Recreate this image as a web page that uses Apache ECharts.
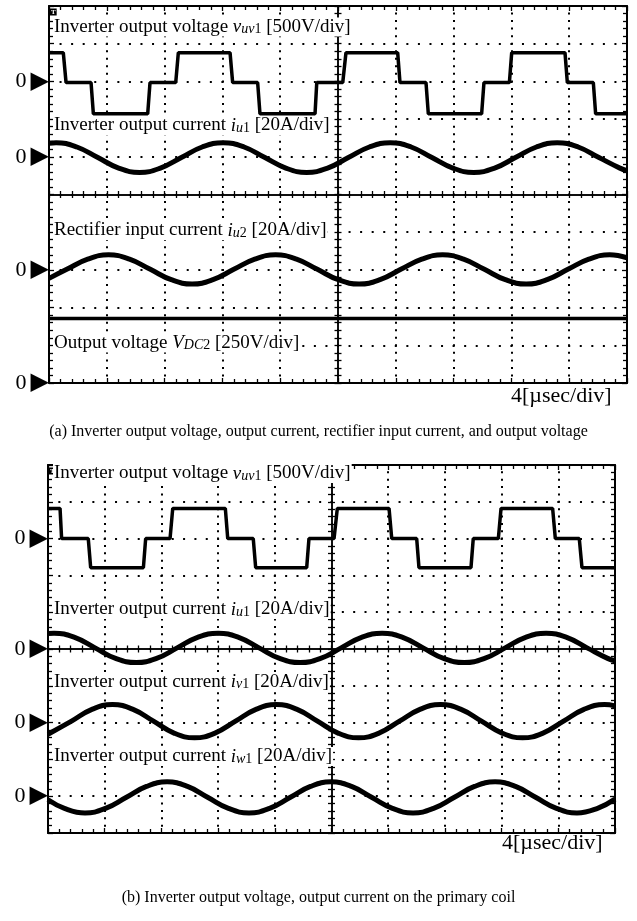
<!DOCTYPE html>
<html><head><meta charset="utf-8">
<script src="https://cdn.jsdelivr.net/npm/echarts@6/dist/echarts.min.js"></script>
<style>html,body{margin:0;padding:0;background:#fff}#c{width:637px;height:921px}</style>
</head><body><div id="c"></div>
<script>
// ---------------- data (time in µs, 4 µs/div, 10 div) ----------------
const T_MAX = 40;
const T_DIV = 4;
const DIVS = 10;

// (a) inverter output voltage v_uv1 [V]
const aVuvT = [0, 0.99, 1.18, 2.91, 3.07, 6.83, 6.99, 8.77, 8.95, 12.53, 12.71, 14.44, 14.60, 18.41, 18.53, 20.33, 20.55, 24.13, 24.29, 26.09, 26.25, 29.94, 30.10, 31.86, 32.02, 35.71, 35.87, 37.67, 37.83, 40];
const aVuvV = [380, 380, -15, -15, -430, -430, -15, -15, 380, 380, -15, -15, -430, -430, -15, -15, 380, 380, -15, -15, -430, -430, -15, -15, 380, 380, -15, -15, -430, -430];
// (a) inverter output current i_u1 [A]
const aIu1T = [0, 0.49, 1.93, 3.38, 4.82, 6.27, 7.71, 9.16, 10.6, 12.05, 13.5, 14.94, 16.39, 17.83, 19.28, 20.72, 22.17, 23.61, 25.06, 26.5, 27.95, 29.39, 30.84, 32.28, 33.73, 35.17, 36.62, 38.06, 39.51, 40];
const aIu1A = [7.2, 7.5, 5.2, -0.4, -6.0, -8.3, -6.0, -0.4, 5.2, 7.5, 5.2, -0.4, -6.0, -8.3, -6.0, -0.4, 5.2, 7.5, 5.2, -0.4, -6.0, -8.3, -6.0, -0.4, 5.2, 7.5, 5.2, -0.4, -6.0, -7.3];
// (a) rectifier input current i_u2 [A]
const aIu2T = [0, 1.23, 2.68, 4.12, 5.57, 7.01, 8.46, 9.90, 11.35, 12.79, 14.24, 15.68, 17.13, 18.57, 20.02, 21.46, 22.91, 24.35, 25.8, 27.24, 28.69, 30.13, 31.58, 33.02, 34.47, 35.91, 37.36, 38.8, 40];
const aIu2A = [-4.5, 0.3, 5.7, 8.0, 5.7, 0.3, -5.2, -7.5, -5.2, 0.3, 5.7, 8.0, 5.7, 0.3, -5.2, -7.5, -5.2, 0.3, 5.7, 8.0, 5.7, 0.3, -5.2, -7.5, -5.2, 0.3, 5.7, 8.0, 6.4];
// (a) output voltage V_DC2 [V]
const aVdcT = [0, 10, 20, 30, 40];
const aVdcV = [428, 428, 428, 428, 428];

// (b) inverter output voltage v_uv1 [V]
const bVuvT = [0, 0.85, 0.96, 2.84, 3.01, 6.73, 6.89, 8.61, 8.80, 12.51, 12.68, 14.48, 14.65, 18.25, 18.41, 20.18, 20.41, 24.06, 24.25, 26.01, 26.17, 29.84, 30.00, 31.77, 31.96, 35.60, 35.79, 37.48, 37.67, 40];
const bVuvV = [410, 410, 0, 0, -395, -395, 0, 0, 410, 410, 0, 0, -395, -395, 0, 0, 410, 410, 0, 0, -395, -395, 0, 0, 410, 410, 0, 0, -395, -395];
// (b) inverter output current i_u1 [A]
const bIu1T = [0, 0.43, 1.88, 3.32, 4.77, 6.22, 7.66, 9.11, 10.55, 12.0, 13.45, 14.89, 16.34, 17.79, 19.23, 20.68, 22.12, 23.57, 25.02, 26.46, 27.91, 29.36, 30.8, 32.25, 33.69, 35.14, 36.59, 38.03, 39.48, 40];
const bIu1A = [8.4, 8.6, 6.3, 0.6, -5.1, -7.4, -5.1, 0.6, 6.3, 8.6, 6.3, 0.6, -5.1, -7.4, -5.1, 0.6, 6.3, 8.6, 6.3, 0.6, -5.1, -7.4, -5.1, 0.6, 6.3, 8.6, 6.3, 0.6, -5.1, -6.4];
// (b) inverter output current i_v1 [A]
const bIv1T = [0, 1.66, 3.1, 4.55, 6.0, 7.44, 8.89, 10.34, 11.78, 13.23, 14.67, 16.12, 17.57, 19.01, 20.46, 21.91, 23.35, 24.8, 26.24, 27.69, 29.14, 30.58, 32.03, 33.48, 34.92, 36.37, 37.81, 39.26, 40];
const bIv1A = [-6.3, 0.8, 7.2, 9.8, 7.2, 0.8, -5.7, -8.3, -5.7, 0.8, 7.2, 9.8, 7.2, 0.8, -5.7, -8.3, -5.7, 0.8, 7.2, 9.8, 7.2, 0.8, -5.7, -8.3, -5.7, 0.8, 7.2, 9.8, 9.1];
// (b) inverter output current i_w1 [A]
const bIw1T = [0, 1.16, 2.61, 4.06, 5.5, 6.95, 8.4, 9.84, 11.29, 12.73, 14.18, 15.63, 17.07, 18.52, 19.97, 21.41, 22.86, 24.3, 25.75, 27.2, 28.64, 30.09, 31.54, 32.98, 34.43, 35.87, 37.32, 38.77, 40];
const bIw1A = [-1.9, -6.6, -9.1, -6.6, -0.7, 5.3, 7.8, 5.3, -0.7, -6.6, -9.1, -6.6, -0.7, 5.3, 7.8, 5.3, -0.7, -6.6, -9.1, -6.6, -0.7, 5.3, 7.8, 5.3, -0.7, -6.6, -9.1, -6.6, -1.6];

// channel labels and captions
const aLabels = [
  '{n|Inverter output voltage }{i|v}{s|uv}{d|1}{n| [500V/div]}',
  '{n|Inverter output current }{i|i}{s|u}{d|1}{n| [20A/div]}',
  '{n|Rectifier input current }{i|i}{s|u}{d|2}{n| [20A/div]}',
  '{n|Output voltage }{i|V}{s|DC}{d|2}{n| [250V/div]}'
];
const bLabels = [
  '{n|Inverter output voltage }{i|v}{s|uv}{d|1}{n| [500V/div]}',
  '{n|Inverter output current }{i|i}{s|u}{d|1}{n| [20A/div]}',
  '{n|Inverter output current }{i|i}{s|v}{d|1}{n| [20A/div]}',
  '{n|Inverter output current }{i|i}{s|w}{d|1}{n| [20A/div]}'
];
const timeLabel = '4[µsec/div]';
const triggerMark = 'T';
const captionA = '(a) Inverter output voltage, output current, rectifier input current, and output voltage';
const captionB = '(b) Inverter output voltage, output current on the primary coil';

// ---------------- layout / style ----------------
const SERIF = '"Liberation Serif", "Times New Roman", serif';
const panels = [
  { box: {left: 49, top: 6, width: 578, height: 377},
    traces: [
      {t: aVuvT, v: aVuvV, perDiv: 500, zeroRow: 2, smooth: false},
      {t: aIu1T, v: aIu1A, perDiv: 20, zeroRow: 4, smooth: true},
      {t: aIu2T, v: aIu2A, perDiv: 20, zeroRow: 7, smooth: true},
      {t: aVdcT, v: aVdcV, perDiv: 250, zeroRow: 10, smooth: false}
    ],
    labels: aLabels, labelCenters: [28.5, 127, 232, 344.5], labelLeft: 53,
    time: {left: 511, center: 396},
    caption: captionA, captionCenter: 432 },
  { box: {left: 48, top: 465, width: 567, height: 368},
    traces: [
      {t: bVuvT, v: bVuvV, perDiv: 500, zeroRow: 2, smooth: false},
      {t: bIu1T, v: bIu1A, perDiv: 20, zeroRow: 5, smooth: true},
      {t: bIv1T, v: bIv1A, perDiv: 20, zeroRow: 7, smooth: true},
      {t: bIw1T, v: bIw1A, perDiv: 20, zeroRow: 9, smooth: true}
    ],
    labels: bLabels, labelCenters: [475, 611, 683.5, 758], labelLeft: 53,
    time: {left: 502, center: 843},
    caption: captionB, captionCenter: 898 }
];

const LABEL_RICH = {
  n: {fontFamily: SERIF, fontSize: 19, lineHeight: 16, color: '#000', fontWeight: 'normal', verticalAlign: 'bottom'},
  i: {fontFamily: SERIF, fontSize: 19, lineHeight: 16, color: '#000', fontWeight: 'normal', fontStyle: 'italic', verticalAlign: 'bottom'},
  s: {fontFamily: SERIF, fontSize: 14, lineHeight: 6, color: '#000', fontWeight: 'normal', fontStyle: 'italic', verticalAlign: 'bottom'},
  d: {fontFamily: SERIF, fontSize: 14, lineHeight: 6, color: '#000', fontWeight: 'normal', verticalAlign: 'bottom'}
};
const ZERO_RICH = {
  z: {fontFamily: SERIF, fontSize: 22, color: '#000', padding: [0, 4, 0, 0]},
  t: {fontFamily: '"DejaVu Sans", sans-serif', fontSize: 24, color: '#000'}
};

const grids = [], xAxes = [], yAxes = [], series = [], titles = [];
const tick = (inside, len) => ({show: true, inside: inside, length: len, lineStyle: {color: '#000', width: 1.3}});
const minor = (len) => ({show: true, splitNumber: 5, length: len, lineStyle: {color: '#000', width: 1.3}});
const border = {show: true, onZero: false, lineStyle: {color: '#000', width: 2}};

panels.forEach((P, p) => {
  const xBase = xAxes.length, yBase = yAxes.length;
  grids.push({left: P.box.left, top: P.box.top, width: P.box.width, height: P.box.height,
              containLabel: false, outerBoundsMode: 'none', show: false});
  const dotV = P.box.height / (DIVS * 5);
  const dotH = P.box.width / (DIVS * 5);
  // X0: bottom border + vertical dotted grid (series axis)
  xAxes.push({type: 'value', gridIndex: p, min: 0, max: T_MAX, interval: T_DIV, position: 'bottom',
    axisLine: border, axisTick: tick(true, 5), minorTick: minor(4), axisLabel: {show: false},
    splitLine: {show: true, lineStyle: {color: '#000', width: 2, type: [2, dotV - 2], dashOffset: 1}},
    minorSplitLine: {show: false}});
  // X1: top border
  xAxes.push({type: 'value', gridIndex: p, min: 0, max: T_MAX, interval: T_DIV, position: 'top',
    axisLine: border, axisTick: tick(true, 5), minorTick: minor(4), axisLabel: {show: false},
    splitLine: {show: false}});
  // X2: hidden reference for the vertical centre line
  xAxes.push({type: 'value', gridIndex: p, min: -5, max: 5, show: false, axisLine: {onZero: false}, splitLine: {show: false}});
  // X3/X4: horizontal centre line with cross ticks
  [true, false].forEach(ins => xAxes.push({type: 'value', gridIndex: p, min: 0, max: T_MAX, interval: T_DIV, position: 'bottom',
    axisLine: {show: true, onZero: true, onZeroAxisIndex: yBase, lineStyle: {color: '#000', width: 1.5}},
    axisTick: tick(ins, 3.5), minorTick: minor(3.5), axisLabel: {show: false}, splitLine: {show: false}}));

  // Y0: left border + horizontal dotted grid
  yAxes.push({type: 'value', gridIndex: p, min: -5, max: 5, interval: 1, position: 'left',
    axisLine: border, axisTick: tick(true, 5), minorTick: minor(4), axisLabel: {show: false},
    splitLine: {show: true, lineStyle: {color: '#000', width: 2, type: [2, dotH - 2], dashOffset: 1}},
    minorSplitLine: {show: false}});
  // Y1: right border
  yAxes.push({type: 'value', gridIndex: p, min: -5, max: 5, interval: 1, position: 'right',
    axisLine: border, axisTick: tick(true, 5), minorTick: minor(4), axisLabel: {show: false},
    splitLine: {show: false}});
  // Y2/Y3: vertical centre line with cross ticks
  [true, false].forEach(ins => yAxes.push({type: 'value', gridIndex: p, min: -5, max: 5, interval: 1, position: 'left',
    axisLine: {show: true, onZero: true, onZeroAxisIndex: xBase + 2, lineStyle: {color: '#000', width: 1.5}},
    axisTick: tick(ins, 3.5), minorTick: minor(3.5), axisLabel: {show: false}, splitLine: {show: false}}));

  // channel axes + traces
  P.traces.forEach((tr) => {
    yAxes.push({type: 'value', gridIndex: p,
      min: -(DIVS - tr.zeroRow) * tr.perDiv, max: tr.zeroRow * tr.perDiv, interval: tr.perDiv,
      position: 'left', axisLine: {show: false, onZero: false}, axisTick: {show: false},
      splitLine: {show: false},
      axisLabel: {show: true, margin: 0, showMinLabel: true, showMaxLabel: false,
        formatter: v => (v === 0 ? '{z|0}{t|▶}' : ''), rich: ZERO_RICH}});
    series.push({type: 'line', xAxisIndex: xBase, yAxisIndex: yAxes.length - 1,
      data: tr.t.map((t, i) => [t, tr.v[i]]),
      showSymbol: false, symbol: 'none', smooth: tr.smooth ? 0.45 : false,
      lineStyle: {color: '#000', width: tr.smooth ? 5 : 3.5},
      silent: true, z: 3});
  });

  // trigger mark in the top-left corner
  titles.push({text: triggerMark, left: P.box.left + 1, top: P.box.top + 3, padding: [0, 1, 0, 1],
    backgroundColor: '#000', textStyle: {fontFamily: SERIF, fontSize: 7, lineHeight: 6, color: '#fff', fontWeight: 'bold'}});
  // channel labels
  P.labels.forEach((txt, k) => {
    titles.push({text: txt, left: P.labelLeft, top: P.labelCenters[k] - 8, padding: [0, 1, 0, 1],
      backgroundColor: '#fff', textStyle: {rich: LABEL_RICH, lineHeight: 16, fontWeight: 'normal'}});
  });
  // time base label
  titles.push({text: timeLabel, left: P.time.left, top: P.time.center - 12, padding: 0,
    textStyle: {fontFamily: SERIF, fontSize: 22, lineHeight: 24, fontWeight: 'normal', color: '#000'}});
  // caption
  titles.push({text: P.caption, left: 'center', top: P.captionCenter - 9, padding: 0,
    textStyle: {fontFamily: SERIF, fontSize: 16, lineHeight: 18, fontWeight: 'normal', color: '#000'}});
});

const chart = echarts.init(document.getElementById('c'), null, {renderer: 'canvas', width: 637, height: 921});
chart.setOption({
  animation: false,
  backgroundColor: '#fff',
  title: titles,
  grid: grids,
  xAxis: xAxes,
  yAxis: yAxes,
  series: series
});
</script>
</body></html>
